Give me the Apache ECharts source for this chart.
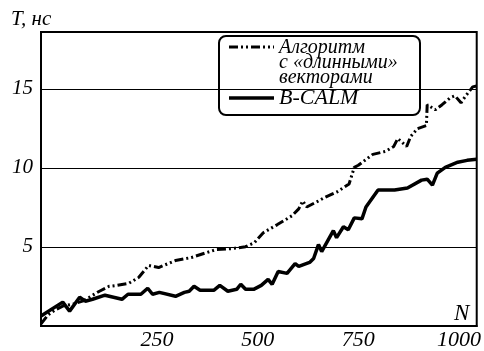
<!DOCTYPE html>
<html>
<head>
<meta charset="utf-8">
<script src="https://cdn.jsdelivr.net/npm/echarts@6/dist/echarts.min.js"></script>
<style>
  html, body { margin: 0; padding: 0; background: #fff; }
  #chart { width: 484px; height: 351px; }
</style>
</head>
<body>
<div id="chart"></div>
<script>
// B-CALM (solid)
var calmN = [-38, 16, 33, 58, 72, 90, 121, 163, 178, 210, 227, 239, 256, 296, 318, 330, 342, 357,
  391, 406, 426, 448, 458, 470, 490, 509, 526, 536, 551, 573, 593, 602, 629, 639, 651, 659,
  688, 696, 713, 725, 740, 759, 769, 799, 840, 872, 907, 921, 934, 946, 966, 997, 1020, 1044];
var calmT = [0.63, 1.51, 0.94, 1.82, 1.57, 1.69, 1.95, 1.69, 2.01, 2.01, 2.39, 2.01, 2.13, 1.88, 2.13, 2.20, 2.51, 2.26,
  2.26, 2.57, 2.20, 2.32, 2.64, 2.32, 2.32, 2.57, 2.95, 2.64, 3.45, 3.33, 3.95, 3.77, 4.02, 4.27, 5.15, 4.71,
  6.03, 5.59, 6.28, 6.09, 6.84, 6.78, 7.53, 8.60, 8.60, 8.73, 9.23, 9.29, 8.91, 9.67, 10.04, 10.36, 10.48, 10.55];

// Алгоритм с «длинными» векторами (dash-dot-dot)
var algoN = [-38, -21, -4, 16, 41, 65, 82, 107, 131, 151, 180, 205, 229, 254, 296, 335, 396, 438, 470, 492,
  514, 548, 585, 602, 612, 622, 651, 664, 696, 727, 740, 750, 786, 818, 838, 848, 870, 880, 897, 919,
  921, 941, 958, 978, 990, 1005, 1015, 1034, 1044];
var algoT = [0.13, 0.69, 1.00, 1.26, 1.38, 1.57, 1.82, 2.20, 2.51, 2.57, 2.70, 3.08, 3.83, 3.70, 4.14, 4.33, 4.83, 4.90, 5.02, 5.27,
  5.90, 6.40, 6.97, 7.41, 7.91, 7.53, 7.91, 8.10, 8.47, 8.98, 10.04, 10.17, 10.86, 11.05, 11.36, 11.86, 11.36, 11.99, 12.49, 12.68,
  14.00, 13.68, 14.00, 14.44, 14.56, 14.12, 14.50, 15.13, 15.19];

var xTicks = [250, 500, 750, 1000];
var yTicks = [5, 10, 15];

function pairs(xs, ys) {
  return xs.map(function (x, i) { return [x, ys[i]]; });
}

var font = "'Liberation Serif', 'DejaVu Serif', serif";

var chart = echarts.init(document.getElementById('chart'));

var option = {
  backgroundColor: '#fff',
  animation: false,
  grid: {
    left: 41, right: 2, top: 32, bottom: 23,
    show: true, borderColor: '#000', borderWidth: 2
  },
  xAxis: {
    type: 'value',
    min: -38,
    max: 1044,
    axisLine: { show: true, onZero: false, lineStyle: { color: '#000', width: 2 } },
    axisTick: { show: false },
    splitLine: { show: false },
    axisLabel: {
      customValues: xTicks,
      formatter: function (v) { return String(v); },
      color: '#000',
      fontFamily: font,
      fontStyle: 'italic',
      fontSize: 22,
      margin: 3
    }
  },
  yAxis: {
    type: 'value',
    min: 0,
    max: 18.6,
    interval: 5,
    axisLine: { show: true, onZero: false, lineStyle: { color: '#000', width: 2 } },
    axisTick: { show: false },
    splitLine: { show: true, lineStyle: { color: '#000', width: 1 } },
    axisLabel: {
      customValues: yTicks,
      color: '#000',
      fontFamily: font,
      fontStyle: 'italic',
      fontSize: 21,
      margin: 8
    }
  },
  series: [
    {
      name: 'Алгоритм с «длинными» векторами',
      type: 'line',
      data: pairs(algoN, algoT),
      showSymbol: false,
      symbol: 'none',
      lineStyle: { color: '#000', width: 3, type: [9, 3, 2, 3, 2, 3] },
      z: 3
    },
    {
      name: 'B-CALM',
      type: 'line',
      data: pairs(calmN, calmT),
      showSymbol: false,
      symbol: 'none',
      lineStyle: { color: '#000', width: 3.5 },
      z: 4
    }
  ],
  graphic: [
    {
      type: 'text', left: 11, top: 9, z: 10,
      style: { text: 'T, нс', fill: '#000', font: 'italic 21px ' + font }
    },
    {
      type: 'text', left: 454, top: 302, z: 10,
      style: { text: 'N', fill: '#000', font: 'italic 23px ' + font }
    },
    {
      type: 'group', left: 218, top: 35, z: 20,
      children: [
        {
          type: 'rect',
          shape: { x: 0, y: 0, width: 201, height: 79, r: 7 },
          style: { fill: '#fff', stroke: '#000', lineWidth: 2 }
        },
        {
          type: 'line',
          shape: { x1: 10, y1: 11, x2: 55, y2: 11 },
          style: { stroke: '#000', lineWidth: 3, lineDash: [9, 3, 2, 3, 2, 3] }
        },
        {
          type: 'line',
          shape: { x1: 10, y1: 62, x2: 55, y2: 62 },
          style: { stroke: '#000', lineWidth: 3.5 }
        },
        {
          type: 'text', x: 60, y: 12,
          style: { text: 'Алгоритм', fill: '#000', font: 'italic 20px ' + font, verticalAlign: 'middle' }
        },
        {
          type: 'text', x: 60, y: 27,
          style: { text: 'с «длинными»', fill: '#000', font: 'italic 20px ' + font, verticalAlign: 'middle' }
        },
        {
          type: 'text', x: 60, y: 42,
          style: { text: 'векторами', fill: '#000', font: 'italic 20px ' + font, verticalAlign: 'middle' }
        },
        {
          type: 'text', x: 60, y: 62,
          style: { text: 'B-CALM', fill: '#000', font: 'italic 22px ' + font, verticalAlign: 'middle' }
        }
      ]
    }
  ]
};

chart.setOption(option);
</script>
</body>
</html>
